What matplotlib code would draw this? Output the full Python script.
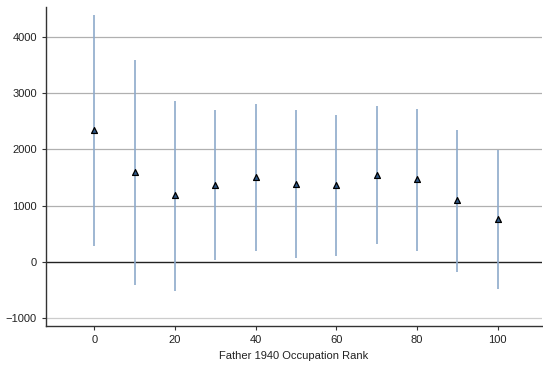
import matplotlib
matplotlib.use("Agg")
import matplotlib.pyplot as plt

plt.rcParams['font.family'] = ['Liberation Sans', 'DejaVu Sans']

# father 1940 occupation rank bins
rank = [0, 10, 20, 30, 40, 50, 60, 70, 80, 90, 100]
estimate = [2345, 1600, 1185, 1370, 1510, 1390, 1370, 1555, 1470, 1095, 770]
ci_upper = [4395, 3595, 2865, 2700, 2810, 2700, 2615, 2775, 2720, 2350, 1995]
ci_lower = [285, -410, -515, 35, 195, 75, 110, 315, 195, -180, -480]

fig = plt.figure(figsize=(5.43, 3.65), dpi=100)
ax = fig.add_axes([46 / 543, 39 / 365, 496 / 543, 319 / 365])

ax.set_xlim(-12, 111)
ax.set_ylim(-1138, 4533)

# grid lines
for yv in [1000, 2000, 3000, 4000]:
    ax.axhline(yv, color='#b0b0b0', lw=0.9, zorder=0)
ax.axhline(-1000, color='#cccccc', lw=0.9, zorder=0)
ax.axhline(0, color='#222222', lw=1.0, zorder=1)

# confidence intervals
ax.vlines(rank, ci_lower, ci_upper, color='#8eaacb', lw=1.2, zorder=2)

# point estimates
ax.scatter(rank, estimate, marker='^', s=18, facecolor='#2f5a8a',
           edgecolor='black', linewidths=0.9, zorder=3)

ax.set_xticks([0, 20, 40, 60, 80, 100])
ax.set_yticks([-1000, 0, 1000, 2000, 3000, 4000])
ax.tick_params(labelsize=8, length=3, width=0.8, color='#333333',
               labelcolor='#222222')
ax.set_xlabel('Father 1940 Occupation Rank', fontsize=8, labelpad=4,
              color='#222222')

for side in ['top', 'right']:
    ax.spines[side].set_visible(False)
for side in ['left', 'bottom']:
    ax.spines[side].set_color('#333333')
    ax.spines[side].set_linewidth(1.0)

fig.savefig('out.png', dpi=100)
